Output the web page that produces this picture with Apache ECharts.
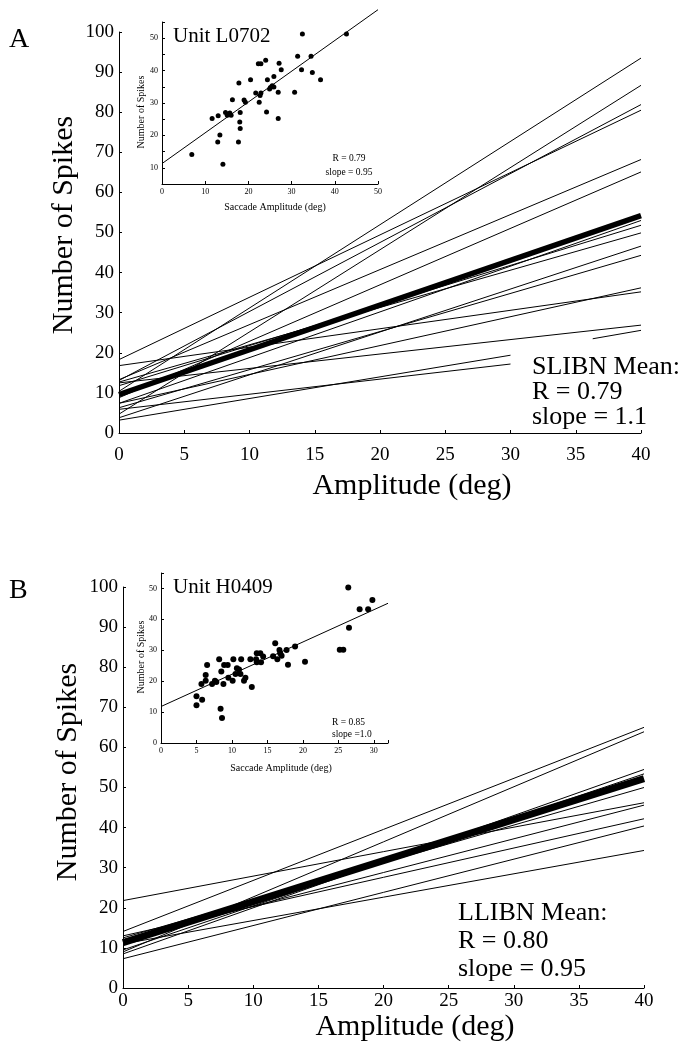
<!DOCTYPE html>
<html><head><meta charset="utf-8">
<script src="https://cdn.jsdelivr.net/npm/echarts@6/dist/echarts.min.js"></script>
<style>html,body{margin:0;padding:0;background:#fff}#c{width:681px;height:1049px}</style>
</head><body><div id="c"></div>
<script>
// ---------- Panel A (SLIBN): individual unit regression lines ----------
const aX0 = [0, 0, 0, 0, 0, 0, 0, 0, 0, 0, 0, 0, 0, 0, 36.3, 0, 0];
const aY0 = [10.4, 4.7, 13.1, 18.3, 13.3, 8.8, 7.4, 11.8, 12.7, 3.8, 6.3, 16.8, 7.4, 12.5, 23.5, 3.2, 5.9];
const aX1 = [40, 40, 40, 40, 40, 40, 40, 40, 40, 40, 40, 40, 40, 40, 40, 30, 30];
const aY1 = [93.5, 86.7, 81.9, 80.5, 68.2, 65.1, 53.0, 51.8, 49.9, 46.6, 44.3, 35.2, 36.2, 26.9, 25.6, 19.4, 17.2];
const aMeanX = [0, 40];
const aMeanY = [9.6, 54.2];

// Inset A: Unit L0702
const insetAX = [6.9, 11.6, 13.0, 12.9, 13.4, 14.1, 14.7, 15.1, 15.7, 16.0, 16.3, 17.8, 17.7, 18.0, 18.1, 18.1, 19.0, 19.3, 20.5, 21.7, 22.3, 22.9, 22.5, 22.7, 22.9, 24.0, 24.2, 24.4, 25.1, 25.5, 25.9, 25.9, 26.9, 26.9, 27.1, 27.6, 30.7, 31.4, 32.3, 32.5, 34.5, 34.8, 36.7, 42.7, 24.9];
const insetAY = [14.1, 25.2, 26.1, 18.0, 20.1, 11.1, 27.1, 26.2, 26.9, 26.2, 31.0, 36.2, 18.0, 24.1, 22.1, 27.1, 30.9, 30.2, 37.2, 33.1, 42.1, 42.1, 30.2, 32.3, 33.1, 43.2, 27.2, 37.2, 34.8, 35.3, 38.2, 34.9, 33.3, 25.2, 42.3, 40.3, 33.3, 44.4, 40.3, 51.3, 44.4, 39.4, 37.2, 51.3, 34.3];
const insetAFitX = [0, 50];
const insetAFitY = [11.3, 58.8];

// ---------- Panel B (LLIBN) ----------
const bX0 = [0, 0, 0, 0, 0, 0, 0, 0, 0, 0];
const bY0 = [21.8, 14.1, 9.0, 8.5, 9.5, 12.5, 12.0, 13.0, 7.3, 11.0];
const bX1 = [40, 40, 40, 40, 40, 40, 40, 40, 40, 40];
const bY1 = [46.2, 65.0, 63.9, 54.5, 53.4, 50.0, 45.6, 42.2, 40.4, 34.3];
const bMeanX = [0, 40];
const bMeanY = [11.3, 52.2];

// Inset B: Unit H0409
const insetBX = [5.0, 5.0, 5.8, 5.7, 6.3, 6.3, 6.5, 7.2, 7.6, 7.8, 8.2, 8.4, 8.5, 8.6, 8.8, 8.9, 9.4, 9.5, 10.1, 10.2, 10.5, 10.7, 11.0, 11.2, 11.3, 11.7, 11.9, 12.6, 12.8, 13.4, 13.5, 13.5, 14.0, 14.1, 14.4, 15.8, 16.1, 16.4, 16.7, 16.8, 17.0, 17.7, 17.9, 18.9, 20.3, 25.2, 25.7, 26.4, 26.5, 28.0, 29.2, 29.8];
const insetBY = [15.1, 12.2, 14.0, 19.1, 22.0, 20.1, 25.2, 19.1, 20.1, 19.7, 27.1, 11.1, 23.1, 8.1, 19.1, 25.2, 25.2, 21.1, 20.1, 27.1, 22.3, 24.2, 23.8, 22.3, 27.1, 20.1, 21.1, 27.1, 18.1, 27.1, 29.0, 26.1, 29.0, 26.1, 28.0, 28.1, 32.3, 27.1, 30.1, 29.0, 28.2, 30.1, 25.3, 31.2, 26.3, 30.2, 30.2, 50.3, 37.3, 43.3, 43.3, 46.3];
const insetBFitX = [0, 32];
const insetBFitY = [11.8, 45.2];

// ---------- rendering ----------
const SERIF = "'Liberation Serif','Times New Roman',serif";
const BLACK = '#000';

function seg(xs, ys, i, xi, yi, width) {
  return {
    type: 'line', xAxisIndex: xi, yAxisIndex: yi,
    data: [[xs[0][i], ys[0][i]], [xs[1][i], ys[1][i]]],
    symbol: 'none', showSymbol: false, silent: true, animation: false,
    lineStyle: { color: BLACK, width: width }
  };
}
function lineSet(x0, y0, x1, y1, xi, yi) {
  return x0.map((_, i) => seg([x0, x1], [y0, y1], i, xi, yi, 1));
}
function twoPoint(xs, ys, xi, yi, width, clip) {
  return {
    type: 'line', xAxisIndex: xi, yAxisIndex: yi,
    data: xs.map((x, i) => [x, ys[i]]),
    symbol: 'none', showSymbol: false, silent: true, animation: false,
    clip: clip !== false, z: 3,
    lineStyle: { color: BLACK, width: width, cap: 'butt' }
  };
}
function scatter(xs, ys, xi, yi, size) {
  return {
    type: 'scatter', xAxisIndex: xi, yAxisIndex: yi,
    data: xs.map((x, i) => [x, ys[i]]),
    symbol: 'circle', symbolSize: size, silent: true, animation: false,
    itemStyle: { color: BLACK, opacity: 1 }
  };
}

function mainX(gi, margin, raiseLast) {
  return {
    gridIndex: gi, type: 'value', min: 0, max: 40, interval: 5,
    axisLine: { show: true, onZero: false, lineStyle: { color: BLACK, width: 1 } },
    axisTick: { show: true, inside: true, length: 3, lineStyle: { color: BLACK } },
    axisLabel: { color: BLACK, fontFamily: SERIF, fontSize: 19, margin: margin,
      formatter: v => (raiseLast && v === 40) ? '{up|40}' : String(v),
      rich: { up: { color: BLACK, fontFamily: SERIF, fontSize: 19, padding: [0, 0, 0, 0], lineHeight: 19, verticalAlign: 'bottom', height: 19, align: 'center' } } },
    splitLine: { show: false }
  };
}
function mainY(gi) {
  return {
    gridIndex: gi, type: 'value', min: 0, max: 100, interval: 10,
    axisLine: { show: true, onZero: false, lineStyle: { color: BLACK, width: 1 } },
    axisTick: { show: true, inside: true, length: 3, lineStyle: { color: BLACK } },
    axisLabel: { color: BLACK, fontFamily: SERIF, fontSize: 19, margin: 5 },
    splitLine: { show: false }
  };
}
function insetAxis(gi, min, max, interval, keep, margin) {
  return {
    gridIndex: gi, type: 'value', min: min, max: max, interval: interval,
    axisLine: { show: true, onZero: false, lineStyle: { color: BLACK, width: 1 } },
    axisTick: { show: true, inside: true, length: 3, lineStyle: { color: BLACK } },
    axisLabel: { color: BLACK, fontFamily: SERIF, fontSize: 8, margin: margin,
      formatter: v => keep(v) ? String(v) : '' },
    splitLine: { show: false }
  };
}

function txt(x, y, text, size, align, rot) {
  return {
    type: 'text', x: x, y: y, rotation: rot || 0, silent: true, z: 10,
    style: { text: text, fill: BLACK, fontFamily: SERIF, fontSize: size,
      align: align || 'left', verticalAlign: 'middle' }
  };
}

const chart = echarts.init(document.getElementById('c'), null, { renderer: 'canvas' });
const option = {
  backgroundColor: '#fff',
  animation: false,
  grid: [
    { left: 119, top: 32, width: 522, height: 401 },   // A main
    { left: 162, top: 22, width: 216, height: 162 },   // A inset
    { left: 123, top: 587, width: 521, height: 401 },  // B main
    { left: 161, top: 573, width: 227, height: 170 }   // B inset
  ],
  xAxis: [
    mainX(0, 13, false),
    insetAxis(1, 0, 50, 10, v => v % 10 === 0, 4),
    mainX(2, 4, false),
    insetAxis(3, 0, 32, 5, v => v % 5 === 0, 4)
  ],
  yAxis: [
    mainY(0),
    insetAxis(1, 5, 55, 5, v => v % 10 === 0 && v >= 10 && v <= 50, 4),
    mainY(2),
    insetAxis(3, 0, 55, 10, v => v % 10 === 0 && v <= 50, 4)
  ],
  series: [].concat(
    lineSet(aX0, aY0, aX1, aY1, 0, 0),
    [twoPoint(aMeanX, aMeanY, 0, 0, 5.5)],
    [scatter(insetAX, insetAY, 1, 1, 5), twoPoint(insetAFitX, insetAFitY, 1, 1, 1, false)],
    lineSet(bX0, bY0, bX1, bY1, 2, 2),
    [twoPoint(bMeanX, bMeanY, 2, 2, 7)],
    [scatter(insetBX, insetBY, 3, 3, 6), twoPoint(insetBFitX, insetBFitY, 3, 3, 1, false)]
  ),
  graphic: { elements: [
    txt(9, 40, 'A', 28),
    txt(9, 591, 'B', 28),
    txt(173, 36, 'Unit L0702', 21),
    txt(173, 587, 'Unit H0409', 21),
    txt(349, 158, 'R = 0.79', 9.5, 'center'),
    txt(349, 172, 'slope = 0.95', 9.5, 'center'),
    txt(332, 722, 'R = 0.85', 9.5),
    txt(332, 734, 'slope =1.0', 9.5),
    txt(532, 367, 'SLIBN Mean:', 26),
    txt(532, 392, 'R = 0.79', 26),
    txt(532, 417, 'slope = 1.1', 26),
    txt(458, 913, 'LLIBN Mean:', 26),
    txt(458, 941, 'R = 0.80', 26),
    txt(458, 969, 'slope = 0.95', 26),
    txt(64, 225, 'Number of Spikes', 30, 'center', Math.PI / 2),
    txt(68, 772, 'Number of Spikes', 30, 'center', Math.PI / 2),
    txt(412, 486, 'Amplitude (deg)', 30, 'center'),
    txt(415, 1027, 'Amplitude (deg)', 30, 'center'),
    txt(141, 112, 'Number of Spikes', 10, 'center', Math.PI / 2),
    txt(141, 657, 'Number of Spikes', 10, 'center', Math.PI / 2),
    txt(275, 207, 'Saccade Amplitude (deg)', 10, 'center'),
    txt(281, 768, 'Saccade Amplitude (deg)', 10, 'center')
  ] }
};
chart.setOption(option);
</script>
</body></html>
